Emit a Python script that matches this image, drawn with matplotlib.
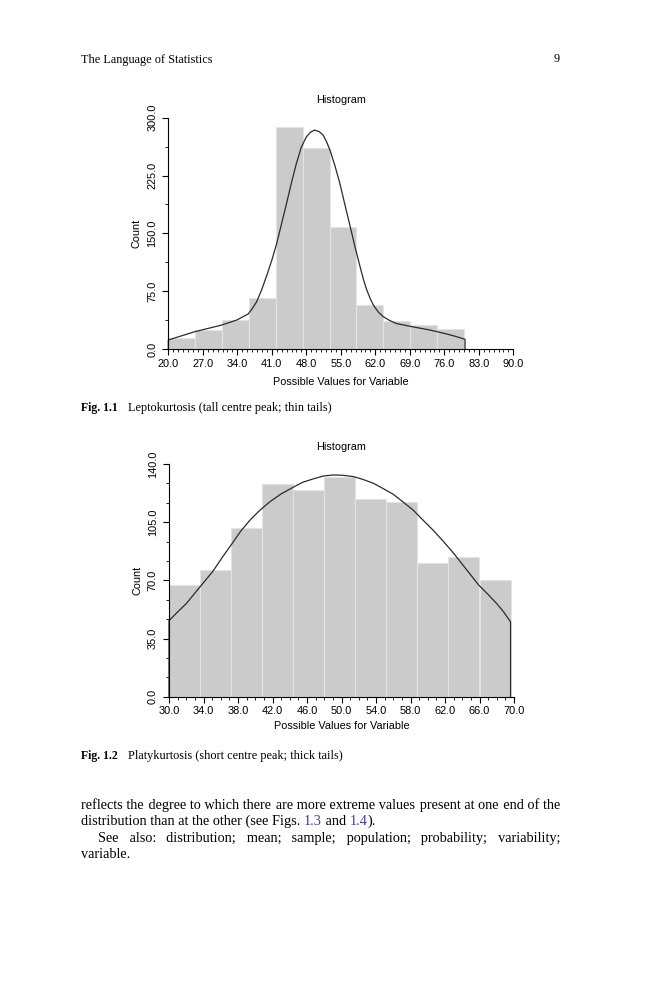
import numpy as np
import matplotlib
matplotlib.use("Agg")
import matplotlib.pyplot as plt
from matplotlib.ticker import MultipleLocator, FormatStrFormatter

# ---- data ----
# Fig 1.1 (leptokurtic)
bins1_lo, bins1_hi = 20.0, 80.0
counts1 = [14.7, 24.6, 37.6, 65.7, 288, 261, 158.7, 57, 36.3, 31, 26]
curve1_x = [20.0, 25.4, 30.8, 33.9, 36.2, 37.0, 37.9, 38.9, 39.9, 41.0, 42.0, 43.0, 44.0, 45.0,
            46.0, 47.0, 48.0, 48.8, 49.7, 50.6, 51.4, 52.1, 52.8, 53.8, 54.8, 55.8, 56.9, 57.9,
            58.9, 59.6, 60.3, 61.0, 61.6, 62.6, 63.6, 64.9, 66.3, 69.4, 73.1, 76.5, 78.5, 80.2]
curve1_y = [11.7, 22.5, 31, 37.6, 45.4, 52, 61, 76, 94, 115, 137, 163, 189, 216,
            241, 262, 275, 281, 284, 282, 277.6, 269, 258, 238, 215, 188, 159, 132,
            107, 90, 76, 65, 57, 48, 42, 37, 33, 29, 24.6, 19.5, 16, 12.5]
xticks1 = [20.0, 27.0, 34.0, 41.0, 48.0, 55.0, 62.0, 69.0, 76.0, 83.0, 90.0]
yticks1 = [0.0, 75.0, 150.0, 225.0, 300.0]

# Fig 1.2 (platykurtic)
bins2_lo, bins2_hi = 30.0, 69.6
counts2 = [67, 76.2, 101.3, 128.2, 124.4, 132.2, 119.2, 117.1, 80.3, 84.1, 70.0]
curve2_x = [30.0, 31.0, 32.0, 33.5, 35.1, 36.2, 37.3, 38.3, 39.4, 40.5, 41.7, 43.0, 44.4, 45.5,
            46.7, 47.9, 49.05, 50.2, 51.4, 52.5, 53.7, 54.8, 56.0, 57.1, 58.3, 59.4, 60.6, 61.8,
            63.0, 64.9, 65.9, 67.0, 68.0, 68.8, 69.6]
curve2_y = [45.7, 51, 56, 65.5, 75.5, 84, 92, 99.5, 106.3, 112, 117.3, 122, 126, 129,
            131, 132.8, 133.4, 133.2, 132.4, 130.7, 128.4, 125.3, 121.8, 117.3, 112.3, 106.5, 100.3, 93.5,
            86.3, 73.8, 67.2, 61.5, 56, 51, 45]
xticks2 = [30.0, 34.0, 38.0, 42.0, 46.0, 50.0, 54.0, 58.0, 62.0, 66.0, 70.0]
yticks2 = [0.0, 35.0, 70.0, 105.0, 140.0]

W, H = 659, 1000
SANS = "Liberation Sans"
SERIF = ["Liberation Serif", "DejaVu Serif"]
BAR = "#cbcbcb"
BAR_EDGE = "#e4e4e4"

fig = plt.figure(figsize=(W / 100, H / 100), dpi=100)
fig.patch.set_facecolor("white")


def px_axes(left, top, right, bottom):
    return fig.add_axes([left / W, 1 - bottom / H, (right - left) / W, (bottom - top) / H])


def histo(ax, lo, hi, counts, cx, cy, xt, yt, ymin_per_major, xlabel_y, top_px, bot_px):
    edges = np.linspace(lo, hi, len(counts) + 1)
    ax.bar(edges[:-1], counts, width=np.diff(edges), align="edge",
           color=BAR, edgecolor=BAR_EDGE, linewidth=0.8, zorder=1)
    # fitted curve, closed down to the baseline at both ends
    ax.plot(np.r_[cx[0], cx, cx[-1]], np.r_[0, cy, 0], color="#2b2b2b",
            lw=0.9, zorder=3, clip_on=False, solid_joinstyle="round")
    ax.set_xlim(xt[0], xt[-1])
    ax.set_ylim(yt[0], yt[-1])
    for s in ("top", "right"):
        ax.spines[s].set_visible(False)
    for s in ("left", "bottom"):
        ax.spines[s].set_linewidth(0.8)
        ax.spines[s].set_zorder(4)
    ax.set_xticks(xt)
    ax.set_yticks(yt)
    ax.xaxis.set_minor_locator(MultipleLocator(1.0))
    ax.yaxis.set_minor_locator(MultipleLocator((yt[1] - yt[0]) / ymin_per_major))
    ax.xaxis.set_major_formatter(FormatStrFormatter("%.1f"))
    ax.yaxis.set_major_formatter(FormatStrFormatter("%.1f"))
    ax.tick_params(which="major", length=4, width=0.8, labelsize=7.9, pad=3)
    ax.tick_params(which="minor", length=2.2, width=0.6)
    ax.tick_params(axis="y", which="major", pad=4)
    for lab in ax.get_xticklabels() + ax.get_yticklabels():
        lab.set_fontfamily(SANS)
    for lab in ax.get_yticklabels():
        lab.set_rotation(90)
        lab.set_va("center")
    ax.set_xlabel("Possible Values for Variable", fontsize=7.8, family=SANS)
    ax.xaxis.set_label_coords(0.5, -(xlabel_y - bot_px) / (bot_px - top_px))
    ax.xaxis.label.set_va("center")
    ax.set_ylabel("Count", fontsize=7.8, family=SANS)
    ax.yaxis.set_label_coords(-31.6 / 345.0, 0.5)
    ax.yaxis.label.set_va("center")
    ax.text(0.5, 1 + 17.5 / (bot_px - top_px), "Histogram", transform=ax.transAxes,
            ha="center", va="center", fontsize=7.8, family=SANS)


ax1 = px_axes(168.3, 117.7, 513.3, 349.0)
histo(ax1, bins1_lo, bins1_hi, counts1, curve1_x, curve1_y, xticks1, yticks1, 2,
      381.7, 117.7, 349.0)

ax2 = px_axes(169.0, 464.0, 514.0, 696.7)
histo(ax2, bins2_lo, bins2_hi, counts2, curve2_x, curve2_y, xticks2, yticks2, 3,
      726.0, 464.0, 696.7)

# ---- page text ----
renderer = fig.canvas.get_renderer()
HAIR = "\u200a"


def ptext(x, y, s, size, **kw):
    kw.setdefault("family", SERIF)
    kw.setdefault("va", "baseline")
    return fig.text(x / W, 1 - y / H, s, fontsize=size, **kw)


def width_of(s, size, **kw):
    t = ptext(0, 0, s, size, **kw)
    w = t.get_window_extent(renderer).width
    t.remove()
    return w


def justified(line, x0, x1, y, size):
    # one text object per line; extra word spacing made up of hair spaces
    wds = line.split()
    natural = width_of(" ".join(wds), size)
    hair = (width_of("x" + HAIR * 20 + "x", size) - width_of("xx", size)) / 20
    gaps = len(wds) - 1
    extra = (x1 - x0 - natural) / gaps
    out, acc, used = wds[0], 0.0, 0
    for w in wds[1:]:
        acc += extra
        k = int(round(acc / hair)) - used if hair > 0 else 0
        used += k
        out += " " + HAIR * max(k, 0) + w
    ptext(x0, y, out, size)


def run(pieces, x0, y, size):
    # pieces of one line in different colours; each starts where the text before it ends
    bar_w = width_of("|", size)
    prefix = ""
    for s, c in pieces:
        x = x0 + (width_of(prefix + "|", size) - bar_w if prefix else 0.0)
        ptext(x, y, s, size, color=c)
        prefix += s


BODY = 10.25
LINK = "#3d3da0"
CAP = 8.8

ptext(80.7, 59.5, "The Language of Statistics", 8.8, va="center")
ptext(560.0, 59.5, "9", 8.8, ha="right", va="center")

ptext(80.7, 411.5, "Fig. 1.1", 8.5, weight="bold")
ptext(128.3, 411.5, "Leptokurtosis (tall centre peak; thin tails)", CAP)
ptext(80.7, 758.5, "Fig. 1.2", 8.5, weight="bold")
ptext(128.3, 758.5, "Platykurtosis (short centre peak; thick tails)", CAP)

justified("reflects the degree to which there are more extreme values present at one end of the",
          80.7, 560.0, 808.5, BODY)
run([("distribution than at the other (see Figs. ", "black"), ("1.3", LINK),
     (" and ", "black"), ("1.4", LINK), (").", "black")], 80.7, 825.2, BODY)
justified("See also: distribution; mean; sample; population; probability; variability;",
          98.0, 560.0, 841.8, BODY)
ptext(80.7, 858.5, "variable.", BODY)

fig.savefig("out.png", dpi=100, facecolor="white")
